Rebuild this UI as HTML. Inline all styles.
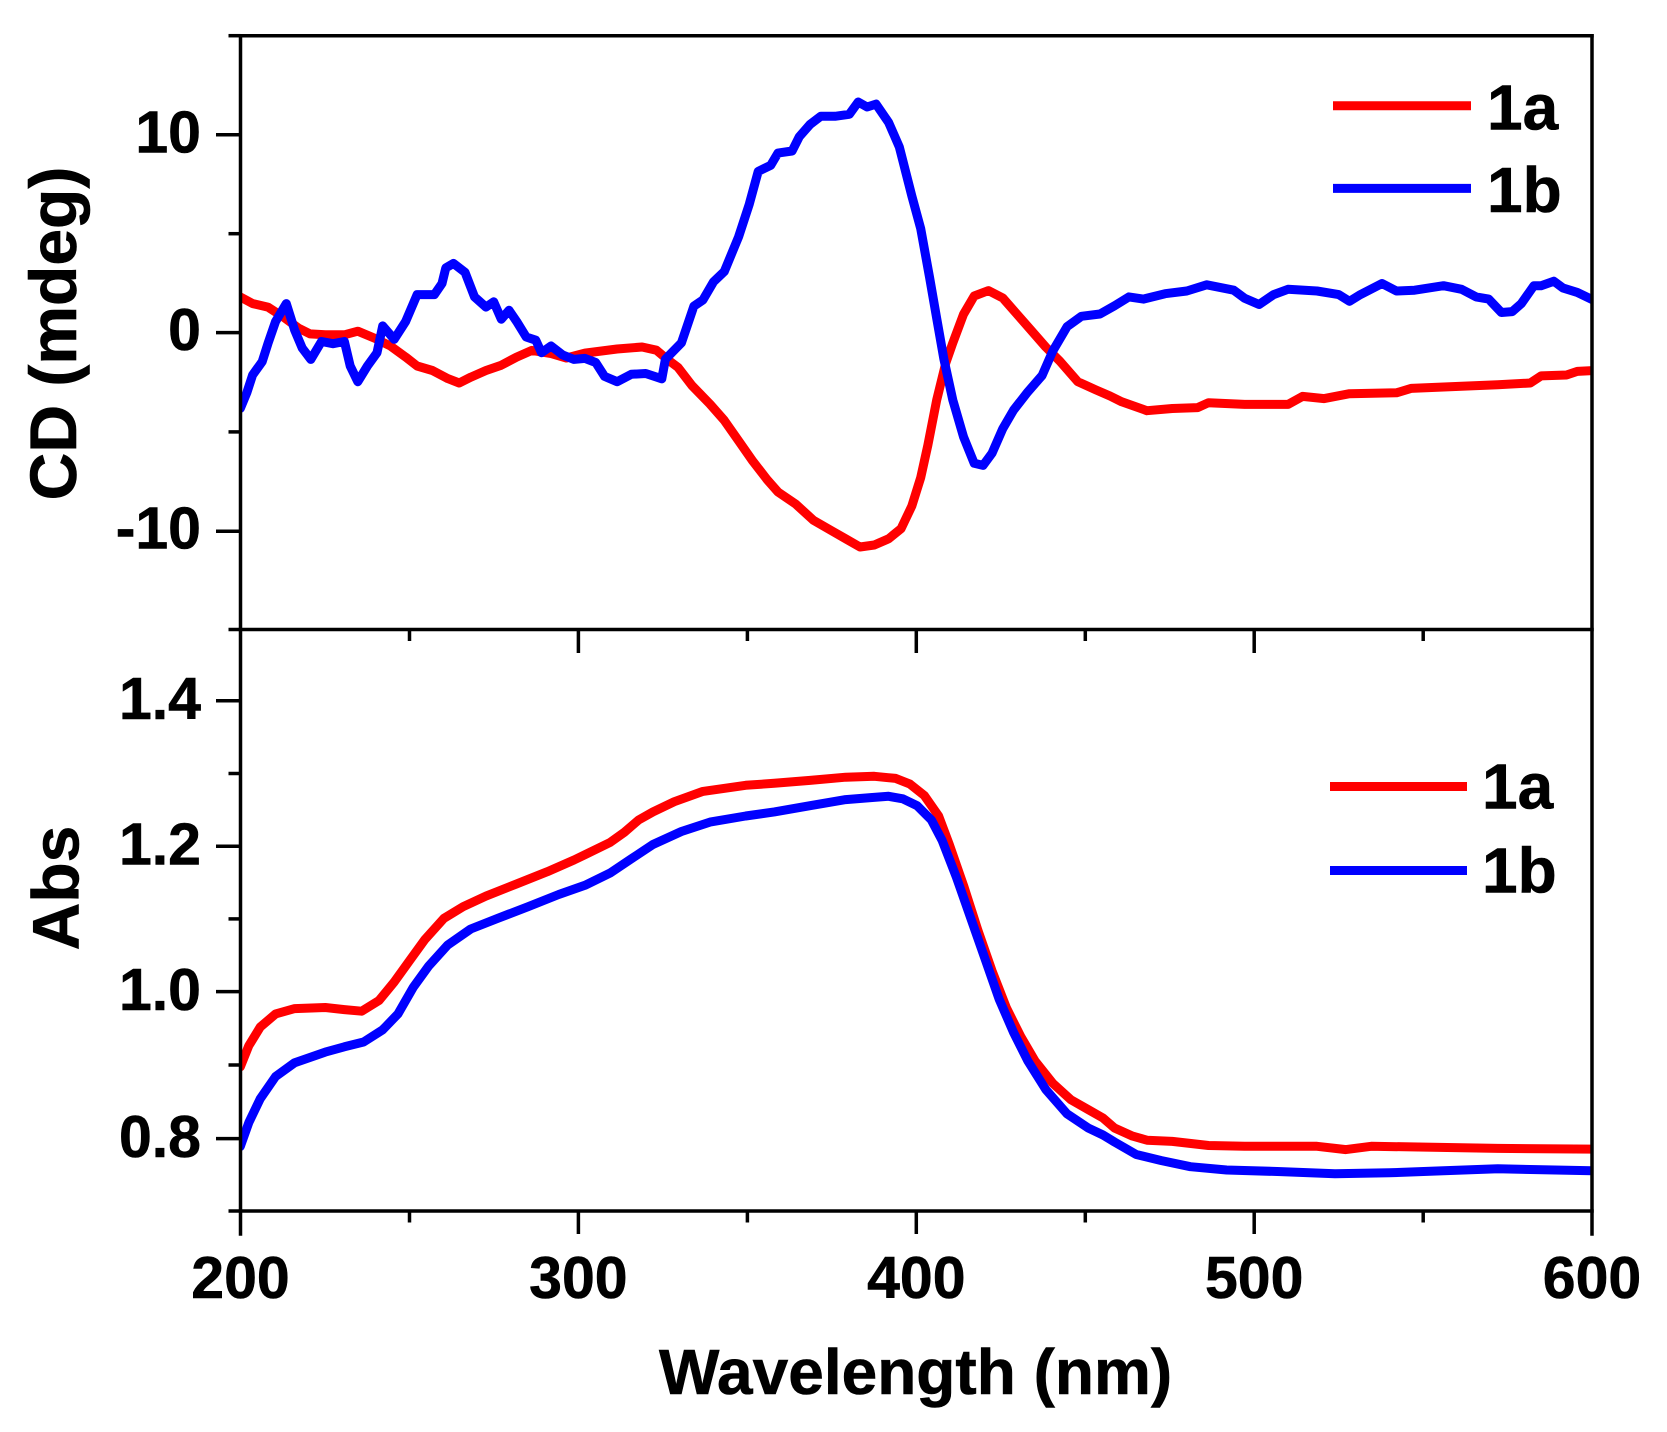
<!DOCTYPE html>
<html>
<head>
<meta charset="utf-8">
<style>
  html, body { margin: 0; padding: 0; background: #ffffff; }
  svg { display: block; }
  text { font-family: "Liberation Sans", Arial, sans-serif; font-weight: bold; fill: #000; stroke: #000; stroke-width: 0.6; }
</style>
</head>
<body>
<svg width="1667" height="1432" viewBox="0 0 1667 1432" xmlns="http://www.w3.org/2000/svg">
  <defs>
    <clipPath id="clipTop"><rect x="240.5" y="35.7" width="1351.5" height="593.8"/></clipPath>
    <clipPath id="clipBot"><rect x="240.5" y="629.5" width="1351.5" height="581.5"/></clipPath>
  </defs>
  <rect width="1667" height="1432" fill="#fff"/>

  <!-- Top panel curves -->
  <g clip-path="url(#clipTop)" fill="none" stroke-width="9" stroke-linejoin="round" stroke-linecap="round">
    <polyline stroke="#ff0000" points="240.3,296.9 252.6,303.6 267.9,307.1 283.2,316.9 298.5,328.1 310,333.9 325.3,334.8 344.4,334.8 357.8,331.2 375,338.4 390.4,346 405.7,357.1 417.1,366 432.4,370.5 447.8,378.6 459.2,383 470.7,377.2 486,370.5 501.3,365.2 516.6,357.1 531.9,350.4 551.1,353.6 566.4,358 585,353.1 617.1,349 642.1,347 656.4,350.2 667.1,359.2 677.9,367.3 692.1,385.7 710,404.1 724.3,420.4 738.6,440.8 752.9,461.3 767.1,479.6 777.9,491.9 795.7,504.1 813.6,520.4 831.4,530.6 845.7,538.8 860,547 874.3,545 888.6,538.8 901.1,528.6 911.8,506.1 920.7,477.6 927.9,445 936.7,400 945.7,363.3 952.8,342.9 963.5,314.3 974.2,296 988.5,290.6 1002.8,298 1017.1,314.3 1031.4,330.6 1045.7,347 1060,361.3 1077.8,381.7 1095.7,389.8 1110,396 1121.7,401.8 1147,410.7 1172.3,408.5 1197.6,407.6 1208.5,402.7 1244.6,404.4 1288,404.4 1302.5,396.4 1324.2,398.6 1349.5,393.7 1396.5,392.8 1411,388.4 1461.6,386.2 1497.8,384.8 1530.3,383 1541.1,375.9 1566.5,375 1577.3,371.4 1595,370.5"/>
    <polyline stroke="#0000ff" points="240.3,408.5 246.8,392.8 252.6,375 262.2,361.6 267.9,343.7 275.6,321.4 286.3,303.6 294.7,330.3 302.3,348.2 310.8,359.4 321.5,341.5 333,343.7 344.4,341.5 350.2,366 357.8,381.7 367.4,366 377,352.7 382.7,325.9 394.2,339.3 405.7,321.4 417.1,294.6 434.4,294.6 442,283.5 445.8,267.9 453.5,263.4 465,272.3 474.5,296.9 486,307.1 493.7,301.8 501.3,319.2 509,310.3 516.6,321.4 526.2,337 535.8,340.2 541.5,352.7 551.1,346 562.6,354.9 574,359.4 585,358.4 595.7,362.5 604.6,376.4 617.1,381.7 631.4,374.3 645.7,373.5 661.8,378.8 665.4,359.2 681.4,342.9 693.9,306.1 702.9,300 713.6,281.7 724.3,271.5 738.6,236.8 749.3,204.1 758.2,171.4 770.7,165.3 777.9,153.1 792.1,151 799.3,136.7 810,124.5 820.7,116.3 835,116.3 849.3,114.3 858.2,102 867.1,107 876,104.1 888.6,122.4 899.3,146.9 911.8,195.9 920.7,228.6 929.6,277.6 936.7,318.4 943.9,359.2 952.8,400 963.5,436.8 974.2,463.3 983.1,465.4 992.1,453.1 1002.8,428.6 1013.5,410.2 1027.8,391.9 1042.1,375.5 1052.8,351 1067.1,326.6 1081.4,316.3 1100,314 1114.5,305.8 1128.9,296.9 1143.4,299.1 1165.1,293.7 1186.8,291 1206.7,284.8 1233.8,290.2 1244.6,298.2 1259.1,304.5 1273.6,294.6 1288,289.3 1317,291 1338.7,294.6 1349.5,301.3 1360.4,294.6 1382,283.5 1396.5,291 1414.6,290.2 1443.5,285.7 1461.6,289.3 1476.1,296.9 1488.7,299.1 1501.4,312.5 1512.2,311.6 1521.3,303.6 1533.9,285.7 1541.1,285.7 1553.8,281.2 1562.8,287.9 1577.3,292.4 1595,301"/>
  </g>

  <!-- Bottom panel curves -->
  <g clip-path="url(#clipBot)" fill="none" stroke-width="9" stroke-linejoin="round" stroke-linecap="round">
    <polyline stroke="#ff0000" points="240.3,1066.9 248.8,1045.7 260.2,1027.1 275.6,1013.9 294.7,1008.6 325.3,1007.5 344.4,1009.6 361.7,1011.2 378.9,1000.6 394.2,982 409.5,960.8 424.8,939.6 443.9,918.4 463.1,906.7 486,896.1 516.6,883.9 547.3,871.7 574,860 585,854.7 610,842.5 624.3,832.3 638.6,820 652.9,811.9 674.3,801.7 702.9,791.4 745.7,785.3 774.3,783.3 810,780.4 845.7,777.2 874.3,776.3 895.7,778.4 910,784.1 924.3,795.5 938.6,815.9 949.3,844.5 963.5,885.3 977.9,930.2 992.1,971 1006.4,1007.8 1020.7,1036.4 1035,1060.9 1052.8,1083.3 1070.7,1099.6 1088.6,1109.8 1103,1118 1114.5,1128 1132.5,1136.1 1147,1140.2 1172.3,1141.4 1208.5,1145.5 1244.6,1146.3 1317,1146.3 1345.9,1149.6 1371.2,1146.3 1425.4,1147.1 1497.8,1148.4 1595,1149.2"/>
    <polyline stroke="#0000ff" points="240.3,1146.5 248.8,1122.6 260.2,1098.8 275.6,1076.5 294.7,1062.7 325.3,1052.1 344.4,1046.8 363.6,1042 382.7,1029.8 398,1013.9 413.3,987.3 428.6,966.1 447.8,944.9 470.7,929 497.5,918.4 528.1,906.7 558.7,894.5 585,885.3 610,873.1 631.4,858.8 652.9,844.5 681.4,831.5 710,822.1 745.7,816 774.3,811.9 810,805.7 845.7,799.6 870.7,797.6 888.6,796.3 902.8,798.8 917.1,805.7 931.4,820 942.1,840.4 956.4,877.2 970.7,918 985,958.8 999.3,999.6 1013.5,1032.3 1027.8,1060.9 1045.7,1089.4 1067.1,1113.9 1088.6,1128.2 1103,1135 1114.5,1142 1136.2,1154.5 1161.5,1160.6 1190.4,1166.7 1226.6,1170 1280.8,1171.6 1335,1173.7 1389.3,1172.8 1443.5,1170.8 1497.8,1168.8 1595,1170.8"/>
  </g>

  <!-- Frames -->
  <g stroke="#000" stroke-width="3.5" fill="none" stroke-linecap="square">
    <line x1="240.5" y1="35.7" x2="1592" y2="35.7"/>
    <line x1="240.5" y1="629.5" x2="1592" y2="629.5"/>
    <line x1="240.5" y1="1211" x2="1592" y2="1211"/>
    <line x1="240.5" y1="35.7" x2="240.5" y2="1234"/>
    <line x1="1592" y1="35.7" x2="1592" y2="1234"/>
  </g>

  <!-- Ticks -->
  <g stroke="#000" stroke-width="3.5" fill="none">
    <line x1="216" y1="134.8" x2="240.5" y2="134.8"/>
    <line x1="216" y1="332.6" x2="240.5" y2="332.6"/>
    <line x1="216" y1="531.2" x2="240.5" y2="531.2"/>
    <line x1="228.5" y1="35.7" x2="240.5" y2="35.7"/>
    <line x1="228.5" y1="233.7" x2="240.5" y2="233.7"/>
    <line x1="228.5" y1="431.9" x2="240.5" y2="431.9"/>
    <line x1="228.5" y1="629.5" x2="240.5" y2="629.5"/>
    <line x1="216" y1="700.8" x2="240.5" y2="700.8"/>
    <line x1="216" y1="846.2" x2="240.5" y2="846.2"/>
    <line x1="216" y1="991.6" x2="240.5" y2="991.6"/>
    <line x1="216" y1="1138.6" x2="240.5" y2="1138.6"/>
    <line x1="228.5" y1="773.5" x2="240.5" y2="773.5"/>
    <line x1="228.5" y1="918.9" x2="240.5" y2="918.9"/>
    <line x1="228.5" y1="1065" x2="240.5" y2="1065"/>
    <line x1="228.5" y1="1211" x2="240.5" y2="1211"/>
    <line x1="409.5" y1="629.5" x2="409.5" y2="641"/>
    <line x1="578.4" y1="629.5" x2="578.4" y2="653"/>
    <line x1="747.4" y1="629.5" x2="747.4" y2="641"/>
    <line x1="916.3" y1="629.5" x2="916.3" y2="653"/>
    <line x1="1085.3" y1="629.5" x2="1085.3" y2="641"/>
    <line x1="1254.2" y1="629.5" x2="1254.2" y2="653"/>
    <line x1="1423.2" y1="629.5" x2="1423.2" y2="641"/>
    <line x1="409.5" y1="1211" x2="409.5" y2="1222.5"/>
    <line x1="578.4" y1="1211" x2="578.4" y2="1234"/>
    <line x1="747.4" y1="1211" x2="747.4" y2="1222.5"/>
    <line x1="916.3" y1="1211" x2="916.3" y2="1234"/>
    <line x1="1085.3" y1="1211" x2="1085.3" y2="1222.5"/>
    <line x1="1254.2" y1="1211" x2="1254.2" y2="1234"/>
    <line x1="1423.2" y1="1211" x2="1423.2" y2="1222.5"/>
  </g>

  <!-- Y tick labels -->
  <g font-size="59" text-anchor="end">
    <text x="201" y="152.5">10</text>
    <text x="201" y="350">0</text>
    <text x="201" y="548.5">-10</text>
    <text x="201" y="719">1.4</text>
    <text x="201" y="864.5">1.2</text>
    <text x="201" y="1010">1.0</text>
    <text x="201" y="1157">0.8</text>
  </g>

  <!-- X tick labels -->
  <g font-size="59" text-anchor="middle">
    <text x="240.5" y="1298">200</text>
    <text x="578.4" y="1298">300</text>
    <text x="916.3" y="1298">400</text>
    <text x="1254.2" y="1298">500</text>
    <text x="1592" y="1298">600</text>
  </g>

  <!-- Axis titles -->
  <text font-size="66" text-anchor="middle" transform="translate(76,333.5) rotate(-90)">CD (mdeg)</text>
  <text font-size="66" text-anchor="middle" transform="translate(78.5,888) rotate(-90)">Abs</text>
  <text font-size="64" text-anchor="middle" x="915.6" y="1394">Wavelength (nm)</text>

  <!-- Upper legend -->
  <line x1="1333" y1="105.8" x2="1471" y2="105.8" stroke="#ff0000" stroke-width="9"/>
  <line x1="1333" y1="188.4" x2="1471" y2="188.4" stroke="#0000ff" stroke-width="9"/>
  <text font-size="64" x="1487" y="129.5">1a</text>
  <text font-size="64" x="1487" y="212">1b</text>

  <!-- Lower legend -->
  <line x1="1330" y1="786.5" x2="1467" y2="786.5" stroke="#ff0000" stroke-width="9"/>
  <line x1="1330" y1="870.5" x2="1467" y2="870.5" stroke="#0000ff" stroke-width="9"/>
  <text font-size="64" x="1482" y="808.5">1a</text>
  <text font-size="64" x="1482" y="892.5">1b</text>
</svg>
</body>
</html>
